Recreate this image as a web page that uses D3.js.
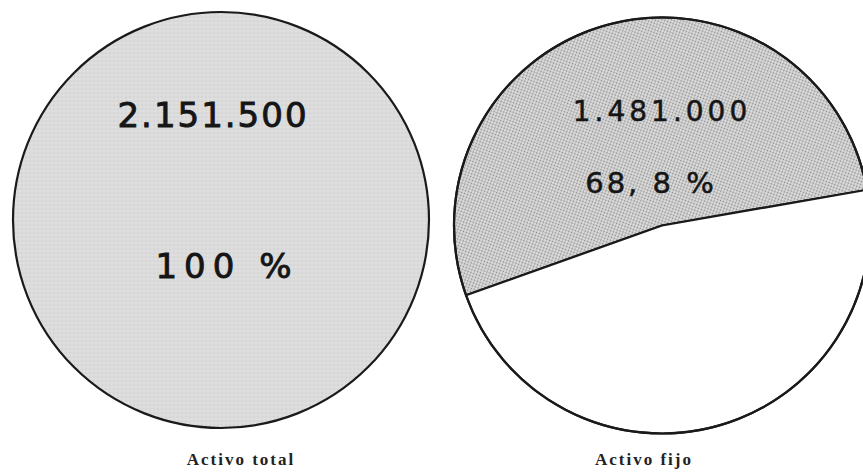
<!DOCTYPE html>
<html>
<head>
<meta charset="utf-8">
<script src="https://cdn.jsdelivr.net/npm/d3@7"></script>
<style>
  body { margin: 0; background: #fff; }
  svg { display: block; }
</style>
</head>
<body>
<svg width="863" height="475"></svg>
<script>
// chart data
var charts = ["Activo total", "Activo fijo"];
var amounts = ["2.151.500", "1.481.000"];
var percents = ["100 %", "68, 8 %"];
// share of the disc that is actually shaded in the drawing (the engraver
// drew the 68,8 % slice at roughly half the disc)
var drawnShare = [1, 0.527];
var sliceStart = [0, -109.6]; // degrees, clockwise from 12 o'clock

var svg = d3.select("svg"),
    width = +svg.attr("width"),
    height = +svg.attr("height");

var defs = svg.append("defs");

// light grey wash for the full disc
var p1 = defs.append("pattern")
    .attr("id", "wash")
    .attr("width", 4).attr("height", 4)
    .attr("patternUnits", "userSpaceOnUse");
p1.append("rect").attr("width", 4).attr("height", 4).attr("fill", "#dcdcdc");
p1.append("circle").attr("cx", 1).attr("cy", 1).attr("r", 0.6).attr("fill", "#c2c2c2");
p1.append("circle").attr("cx", 3).attr("cy", 3).attr("r", 0.5).attr("fill", "#eaeaea");

// fine stipple for the slice
var p2 = defs.append("pattern")
    .attr("id", "stipple")
    .attr("width", 3).attr("height", 3)
    .attr("patternUnits", "userSpaceOnUse")
    .attr("patternTransform", "rotate(20)");
p2.append("rect").attr("width", 3).attr("height", 3).attr("fill", "#e0e0e0");
p2.append("circle").attr("cx", 1.5).attr("cy", 1.5).attr("r", 0.9).attr("fill", "#8c8c8c");

var x = d3.scalePoint()
    .domain(charts)
    .range([221, 662]);

var cy = [220, 225.5];
var radius = 208;

var arc = d3.arc().innerRadius(0).outerRadius(radius);

charts.forEach(function(name, i) {
    var g = svg.append("g")
        .attr("transform", "translate(" + x(name) + "," + cy[i] + ")");

    var pie = d3.pie()
        .sort(null)
        .startAngle(sliceStart[i] * Math.PI / 180)
        .endAngle((sliceStart[i] + 360) * Math.PI / 180);

    var slices = pie(drawnShare[i] >= 1 ? [1] : [drawnShare[i], 1 - drawnShare[i]]);

    g.selectAll("path")
        .data(slices)
        .enter().append("path")
        .attr("d", arc)
        .attr("fill", function(d, j) {
            if (j > 0) return "#fff";
            return i === 0 ? "url(#wash)" : "url(#stipple)";
        })
        .attr("stroke", drawnShare[i] >= 1 ? "none" : "#1a1a1a")
        .attr("stroke-width", 2.2)
        .attr("stroke-linejoin", "round");

    // outline of the disc
    g.append("circle")
        .attr("r", radius)
        .attr("fill", "none")
        .attr("stroke", "#1a1a1a")
        .attr("stroke-width", 2.2);
});

// hand lettered numbers
var hand = svg.append("g")
    .attr("font-family", "'DejaVu Sans', sans-serif")
    .attr("fill", "#151515")
    .attr("stroke", "#151515")
    .attr("text-anchor", "middle");

hand.append("text")
    .attr("x", x(charts[0]) - 8).attr("y", 127)
    .attr("font-size", 34).attr("letter-spacing", 2)
    .attr("stroke-width", 0.9)
    .text(amounts[0]);

hand.append("text")
    .attr("x", x(charts[0]) + 6).attr("y", 278)
    .attr("font-size", 34).attr("letter-spacing", 7)
    .attr("stroke-width", 0.9)
    .text(percents[0]);

hand.append("text")
    .attr("x", x(charts[1])).attr("y", 121)
    .attr("font-size", 28).attr("letter-spacing", 4)
    .attr("stroke-width", 0.5)
    .text(amounts[1]);

hand.append("text")
    .attr("x", x(charts[1]) - 11).attr("y", 193)
    .attr("font-size", 29).attr("letter-spacing", 3)
    .attr("stroke-width", 0.5)
    .text(percents[1]);

// printed captions
svg.append("g")
    .attr("font-family", "'Liberation Serif', serif")
    .attr("font-weight", "bold")
    .attr("font-size", 17)
    .attr("letter-spacing", 2)
    .attr("fill", "#222")
    .attr("text-anchor", "middle")
    .selectAll("text")
    .data(charts)
    .enter().append("text")
    .attr("x", function(d, i) { return x(d) + (i === 0 ? 20 : -18); })
    .attr("y", 465)
    .text(function(d) { return d; });
</script>
</body>
</html>
